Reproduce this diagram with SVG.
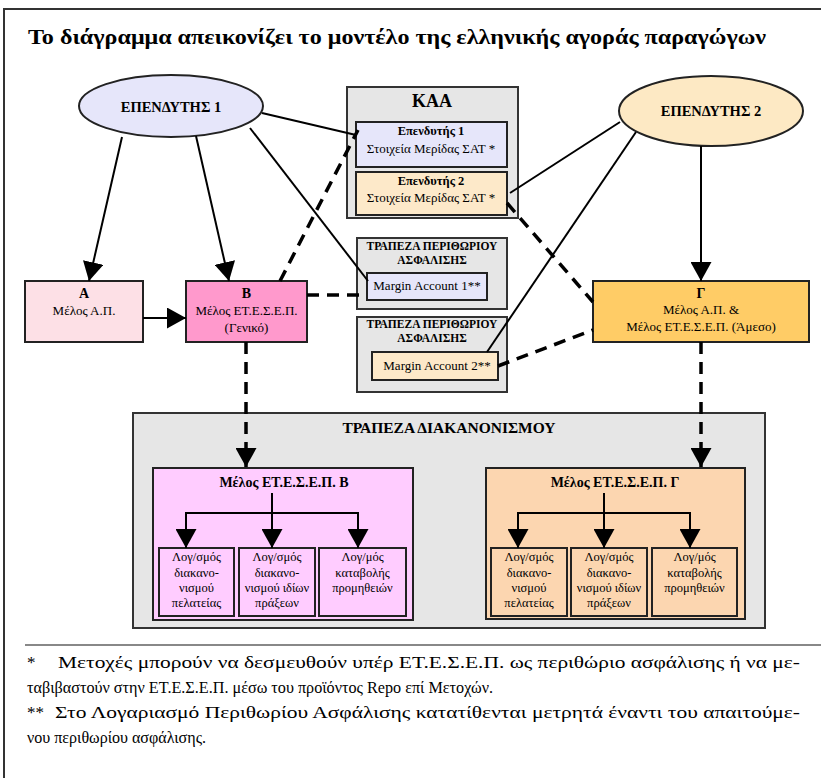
<svg xmlns="http://www.w3.org/2000/svg" width="821" height="778" viewBox="0 0 821 778">
<style>
text { fill: #000; font-family: "Liberation Serif", "Times New Roman", serif; }
.b { font-weight: bold; }
.c { text-anchor: middle; }
.box { stroke: #222; stroke-width: 2; }
.grey { fill: #e6e6e6; stroke: #333; stroke-width: 2; }
.solid { stroke: #000; stroke-width: 2; fill: none; }
.dash { stroke: #000; stroke-width: 3.5; stroke-dasharray: 12 8; fill: none; }
.arr { marker-end: url(#ah); }
.f13 { font-size: 13px; }
.f12 { font-size: 12.5px; }
.fn { font-size: 17px; }
.bank { font-size: 11.5px; }
</style>
<defs>
<marker id="ah" viewBox="0 0 19 21" refX="19" refY="10.5" markerWidth="19" markerHeight="21" markerUnits="userSpaceOnUse" orient="auto">
<path d="M0,0 L19,10.5 L0,21 Z" fill="#000"/>
</marker>
</defs>
<rect x="0" y="0" width="821" height="778" fill="#fff"/>
<rect x="4" y="9" width="840" height="800" fill="#fff" stroke="#333" stroke-width="2"/>
<text class="b" x="28" y="44" font-size="21" textLength="738" lengthAdjust="spacingAndGlyphs">Το διάγραμμα απεικονίζει το μοντέλο της ελληνικής αγοράς παραγώγων</text>

<g id="kaa">
<rect class="grey" x="347" y="87" width="171" height="131"/>
<text class="b c" x="432" y="107" font-size="18">ΚΑΑ</text>
</g>
<g id="kaa-inv1">
<rect class="box" x="356" y="122" width="151" height="45" fill="#e6e6fa"/>
<text class="b c f12" x="431" y="135">Επενδυτής 1</text>
<text class="c f13" x="431" y="153">Στοιχεία Μερίδας ΣΑΤ *</text>
</g>
<g id="kaa-inv2">
<rect class="box" x="356" y="172" width="151" height="43" fill="#fde9c9"/>
<text class="b c f12" x="431" y="185">Επενδυτής 2</text>
<text class="c f13" x="431" y="202">Στοιχεία Μερίδας ΣΑΤ *</text>
</g>

<g id="margin-bank-1">
<rect class="grey" x="357" y="238" width="150" height="71"/>
<text class="b c bank" x="432" y="250">ΤΡΑΠΕΖΑ ΠΕΡΙΘΩΡΙΟΥ</text>
<text class="b c bank" x="432" y="264">ΑΣΦΑΛΙΣΗΣ</text>
</g>
<g id="margin-account-1">
<rect class="box" x="367" y="273" width="120" height="27" fill="#e6e6fa"/>
<text class="c f13" x="427" y="290">Margin Account 1**</text>
</g>
<g id="margin-bank-2">
<rect class="grey" x="357" y="317" width="150" height="75"/>
<text class="b c bank" x="432" y="328">ΤΡΑΠΕΖΑ ΠΕΡΙΘΩΡΙΟΥ</text>
<text class="b c bank" x="432" y="342">ΑΣΦΑΛΙΣΗΣ</text>
</g>
<g id="margin-account-2">
<rect class="box" x="372" y="352" width="126" height="28" fill="#fde9c9"/>
<text class="c f13" x="437" y="370">Margin Account 2**</text>
</g>

<g id="settlement-bank">
<rect class="grey" x="133" y="413" width="632" height="215"/>
<text class="b c" x="449" y="433" font-size="15.5">ΤΡΑΠΕΖΑ ΔΙΑΚΑΝΟΝΙΣΜΟΥ</text>
</g>
<g id="member-b">
<rect class="box" x="153" y="468" width="260" height="152" fill="#ffccff"/>
<text class="b c" x="284" y="487" font-size="14">Μέλος ΕΤ.Ε.Σ.Ε.Π. Β</text>
</g>
<g id="b-acc1">
<rect class="box" x="159" y="548" width="75" height="68" fill="#ffccff"/>
<text class="c f12" x="196.5" y="561">Λογ/σμός</text>
<text class="c f12" x="196.5" y="577">διακανο-</text>
<text class="c f12" x="196.5" y="592">νισμού</text>
<text class="c f12" x="196.5" y="607">πελατείας</text>
</g>
<g id="b-acc2">
<rect class="box" x="239" y="548" width="76" height="68" fill="#ffccff"/>
<text class="c f12" x="277" y="561">Λογ/σμός</text>
<text class="c f12" x="277" y="577">διακανο-</text>
<text class="c f12" x="277" y="592">νισμού ιδίων</text>
<text class="c f12" x="277" y="607">πράξεων</text>
</g>
<g id="b-acc3">
<rect class="box" x="319" y="548" width="87" height="68" fill="#ffccff"/>
<text class="c f12" x="362.5" y="561">Λογ/μός</text>
<text class="c f12" x="362.5" y="577">καταβολής</text>
<text class="c f12" x="362.5" y="592">προμηθειών</text>
</g>

<g id="member-g">
<rect class="box" x="486" y="468" width="259" height="151" fill="#fcd6b0"/>
<text class="b c" x="615" y="487" font-size="14">Μέλος ΕΤ.Ε.Σ.Ε.Π. Γ</text>
</g>
<g id="g-acc1">
<rect class="box" x="491" y="548" width="76" height="68" fill="#fcd6b0"/>
<text class="c f12" x="529" y="561">Λογ/σμός</text>
<text class="c f12" x="529" y="577">διακανο-</text>
<text class="c f12" x="529" y="592">νισμού</text>
<text class="c f12" x="529" y="607">πελατείας</text>
</g>
<g id="g-acc2">
<rect class="box" x="571" y="548" width="76" height="68" fill="#fcd6b0"/>
<text class="c f12" x="609" y="561">Λογ/σμός</text>
<text class="c f12" x="609" y="577">διακανο-</text>
<text class="c f12" x="609" y="592">νισμού ιδίων</text>
<text class="c f12" x="609" y="607">πράξεων</text>
</g>
<g id="g-acc3">
<rect class="box" x="652" y="548" width="85" height="68" fill="#fcd6b0"/>
<text class="c f12" x="694.5" y="561">Λογ/μός</text>
<text class="c f12" x="694.5" y="577">καταβολής</text>
<text class="c f12" x="694.5" y="592">προμηθειών</text>
</g>

<g id="investor-1">
<ellipse cx="171" cy="106" rx="92" ry="31" fill="#e6e6fa" stroke="#222" stroke-width="2"/>
<text class="b c" x="171" y="112" font-size="14.5">ΕΠΕΝΔΥΤΗΣ 1</text>
</g>
<g id="investor-2">
<ellipse cx="711" cy="111" rx="92" ry="35" fill="#fde9c4" stroke="#222" stroke-width="2"/>
<text class="b c" x="711" y="116" font-size="14.5">ΕΠΕΝΔΥΤΗΣ 2</text>
</g>

<g id="node-a">
<rect class="box" x="25" y="281" width="118" height="61" fill="#fde0e6"/>
<text class="b c" x="84" y="298" font-size="14">Α</text>
<text class="c f13" x="84" y="315">Μέλος Α.Π.</text>
</g>
<g id="node-b">
<rect class="box" x="186" y="281" width="121" height="61" fill="#ff99cc"/>
<text class="b c" x="246.5" y="298" font-size="14">Β</text>
<text class="c f13" x="246.5" y="315">Μέλος ΕΤ.Ε.Σ.Ε.Π.</text>
<text class="c f13" x="246.5" y="332">(Γενικό)</text>
</g>
<g id="node-g">
<rect class="box" x="593" y="281" width="216" height="61" fill="#ffcc66"/>
<text class="b c" x="701" y="298" font-size="14">Γ</text>
<text class="c f13" x="701" y="314">Μέλος Α.Π. &amp;</text>
<text class="c f13" x="701" y="331">Μέλος ΕΤ.Ε.Σ.Ε.Π. (Άμεσο)</text>
</g>

<g id="connectors">
<line class="solid arr" x1="122" y1="137" x2="89" y2="281"/>
<line class="solid arr" x1="196" y1="136" x2="229" y2="281"/>
<line class="solid arr" x1="143" y1="318" x2="186" y2="318"/>
<line class="solid arr" x1="701" y1="146" x2="701" y2="281"/>
<line class="solid" x1="262" y1="113" x2="356" y2="135"/>
<line class="solid" x1="250" y1="128" x2="368" y2="281"/>
<line class="solid" x1="620" y1="122" x2="510" y2="193"/>
<line class="solid" x1="636" y1="132" x2="487" y2="352"/>
<line class="dash" x1="280" y1="281" x2="358" y2="130"/>
<line class="dash" x1="307" y1="295" x2="367" y2="295"/>
<line class="dash" x1="507" y1="203" x2="593" y2="302"/>
<line class="dash" x1="498" y1="366" x2="593" y2="330"/>
<line class="dash arr" x1="246" y1="342" x2="246" y2="467"/>
<line class="dash arr" x1="701" y1="342" x2="701" y2="467"/>
<line class="solid arr" x1="272" y1="493" x2="272" y2="548"/>
<polyline class="solid" points="186,530 186,513 358,513 358,530"/>
<line class="solid arr" x1="186" y1="513" x2="186" y2="548"/>
<line class="solid arr" x1="358" y1="513" x2="358" y2="548"/>
<line class="solid arr" x1="604" y1="493" x2="604" y2="548"/>
<polyline class="solid" points="518,530 518,513 690,513 690,530"/>
<line class="solid arr" x1="518" y1="513" x2="518" y2="548"/>
<line class="solid arr" x1="690" y1="513" x2="690" y2="548"/>
</g>

<line x1="25" y1="645" x2="821" y2="645" stroke="#888" stroke-width="2"/>
<g id="footnotes">
<text class="fn" x="27" y="668">*</text>
<text class="fn" x="58" y="668" textLength="742" lengthAdjust="spacingAndGlyphs">Μετοχές μπορούν να δεσμευθούν υπέρ ΕΤ.Ε.Σ.Ε.Π. ως περιθώριο ασφάλισης ή να με-</text>
<text class="fn" x="27" y="693" textLength="466" lengthAdjust="spacingAndGlyphs">ταβιβαστούν στην ΕΤ.Ε.Σ.Ε.Π. μέσω του προϊόντος Repo επί Μετοχών.</text>
<text class="fn" x="27" y="718">**</text>
<text class="fn" x="55" y="718" textLength="745" lengthAdjust="spacingAndGlyphs">Στο Λογαριασμό Περιθωρίου Ασφάλισης κατατίθενται μετρητά έναντι του απαιτούμε-</text>
<text class="fn" x="27" y="743" textLength="179" lengthAdjust="spacingAndGlyphs">νου περιθωρίου ασφάλισης.</text>
</g>
</svg>
